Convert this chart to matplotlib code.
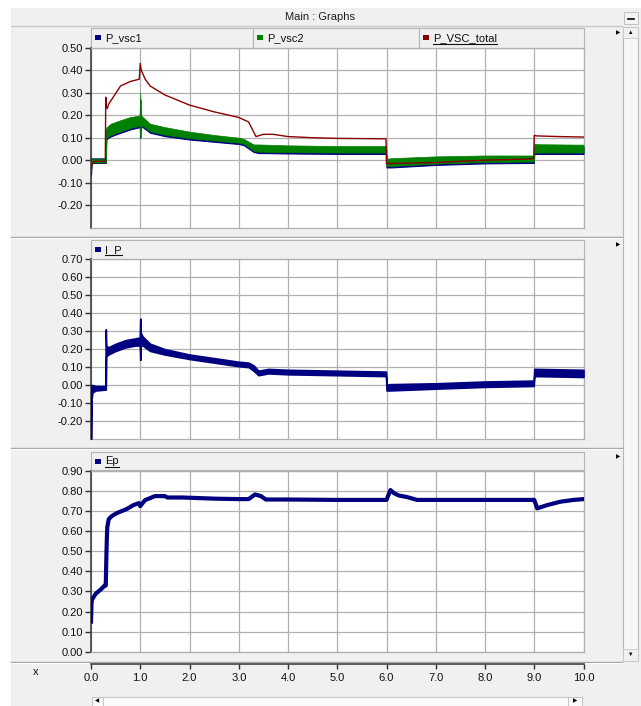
import matplotlib
matplotlib.use("Agg")
import matplotlib.pyplot as plt
from matplotlib.patches import Rectangle
from matplotlib.lines import Line2D

plt.rcParams['font.family'] = ['Liberation Sans', 'DejaVu Sans']

# ---------------- data ----------------
x_ticks = [0.0, 1.0, 2.0, 3.0, 4.0, 5.0, 6.0, 7.0, 8.0, 9.0, 10.0]
x_tick_labels = ["0.0", "1.0", "2.0", "3.0", "4.0", "5.0", "6.0", "7.0", "8.0", "9.0", "10.0"]

p_ticks = [0.50, 0.40, 0.30, 0.20, 0.10, 0.00, -0.10, -0.20]
ip_ticks = [0.70, 0.60, 0.50, 0.40, 0.30, 0.20, 0.10, 0.00, -0.10, -0.20]
ep_ticks = [0.90, 0.80, 0.70, 0.60, 0.50, 0.40, 0.30, 0.20, 0.10, 0.00]

# P_VSC_total (red line)
total_t = [0, 0.01, 0.03, 0.06, 0.29, 0.30, 0.31, 0.33, 0.36, 0.45, 0.6, 0.8, 0.98, 1.0, 1.02,
           1.1, 1.2, 1.5, 2.0, 2.5, 3.0, 3.1, 3.2, 3.35, 3.5, 3.7, 4.0, 4.5, 5.0, 5.99, 6.0,
           6.05, 7.0, 8.0, 8.9, 8.99, 9.0, 9.05, 9.5, 10.0]
total_v = [-0.07, -0.03, -0.01, -0.005, -0.005, 0.28, 0.24, 0.23, 0.25, 0.28, 0.33, 0.35, 0.36, 0.43, 0.40,
           0.36, 0.33, 0.29, 0.245, 0.215, 0.19, 0.18, 0.17, 0.105, 0.115, 0.115, 0.105, 0.10, 0.097, 0.095, -0.015,
           -0.015, -0.01, 0.0, 0.005, 0.01, 0.11, 0.108, 0.105, 0.103]

# P_vsc2 (green band: lower / upper envelope)
vsc_t = [0, 0.01, 0.03, 0.29, 0.30, 0.31, 0.4, 0.6, 0.8, 0.99, 1.0, 1.01, 1.05, 1.2, 1.5, 2.0, 2.5,
         3.0, 3.1, 3.3, 3.4, 4.0, 5.0, 5.99, 6.0, 6.1, 7.0, 8.0, 8.99, 9.0, 9.1, 10.0]
vsc2_lo = [-0.05, -0.02, -0.01, -0.01, -0.01, 0.10, 0.112, 0.128, 0.143, 0.153, 0.10, 0.153, 0.153, 0.128, 0.113, 0.098, 0.088,
           0.078, 0.073, 0.043, 0.038, 0.036, 0.034, 0.034, -0.026, -0.026, -0.015, -0.008, -0.006, 0.034, 0.034, 0.034]
vsc2_hi = [0.0, 0.005, 0.005, 0.005, 0.005, 0.145, 0.162, 0.178, 0.192, 0.198, 0.30, 0.20, 0.192, 0.162, 0.147, 0.127, 0.112,
           0.10, 0.095, 0.07, 0.07, 0.066, 0.063, 0.063, 0.006, 0.009, 0.017, 0.021, 0.021, 0.073, 0.071, 0.069]
# P_vsc1 (blue band, mostly hidden below the green one)
vsc1_lo = [-0.06, -0.02, -0.012, -0.012, -0.012, 0.094, 0.106, 0.122, 0.137, 0.147, 0.10, 0.147, 0.147, 0.122, 0.107, 0.092, 0.082,
           0.072, 0.067, 0.037, 0.032, 0.030, 0.028, 0.028, -0.032, -0.032, -0.021, -0.014, -0.012, 0.028, 0.028, 0.028]
vsc1_hi = [0.0, 0.008, 0.008, 0.008, 0.008, 0.135, 0.152, 0.168, 0.182, 0.188, 0.27, 0.19, 0.182, 0.152, 0.137, 0.117, 0.102,
           0.09, 0.085, 0.06, 0.06, 0.056, 0.053, 0.053, -0.004, -0.001, 0.007, 0.011, 0.011, 0.063, 0.061, 0.059]

# I_P (navy band)
ip_t = [0, 0.01, 0.03, 0.1, 0.29, 0.30, 0.31, 0.35, 0.5, 0.7, 0.9, 0.99, 1.0, 1.01, 1.05, 1.2, 1.5,
        2.0, 2.5, 3.0, 3.2, 3.3, 3.4, 3.6, 4.0, 5.0, 5.99, 6.0, 6.05, 7.0, 8.0, 8.99, 9.0, 9.05, 10.0]
ip_lo = [-0.30, -0.08, -0.04, -0.03, -0.025, -0.025, 0.16, 0.17, 0.19, 0.21, 0.22, 0.22, 0.14, 0.22, 0.22, 0.19, 0.17,
         0.145, 0.125, 0.105, 0.10, 0.08, 0.055, 0.065, 0.06, 0.055, 0.05, -0.03, -0.03, -0.02, -0.01, -0.005, 0.05, 0.05, 0.045]
ip_hi = [0.0, 0.0, 0.0, -0.005, -0.005, 0.31, 0.22, 0.21, 0.23, 0.25, 0.26, 0.265, 0.37, 0.29, 0.27, 0.23, 0.20,
         0.17, 0.15, 0.13, 0.125, 0.11, 0.08, 0.09, 0.085, 0.08, 0.075, 0.0, 0.005, 0.01, 0.02, 0.025, 0.09, 0.09, 0.085]

# Ep (navy line)
ep_t = [0, 0.01, 0.02, 0.1, 0.2, 0.28, 0.30, 0.31, 0.32, 0.33, 0.36, 0.42, 0.52, 0.72, 0.86, 0.97, 1.0, 1.03,
        1.1, 1.2, 1.3, 1.5, 1.55, 1.85, 2.55, 3.0, 3.2, 3.33, 3.45, 3.55, 4.0, 5.0, 6.0, 6.08, 6.15, 6.25,
        6.42, 6.62, 7.0, 8.0, 9.0, 9.06, 9.26, 9.53, 9.8, 10.0]
ep_v = [0.15, 0.24, 0.26, 0.29, 0.31, 0.33, 0.33, 0.45, 0.55, 0.62, 0.66, 0.675, 0.69, 0.71, 0.73, 0.74, 0.725, 0.735,
        0.755, 0.765, 0.775, 0.775, 0.768, 0.768, 0.762, 0.76, 0.76, 0.783, 0.775, 0.758, 0.758, 0.756, 0.756, 0.805, 0.79, 0.778,
        0.77, 0.756, 0.756, 0.756, 0.756, 0.714, 0.73, 0.747, 0.756, 0.76]

NAVY = '#000080'
GREEN = '#008000'
RED = '#8b0000'

# ---------------- figure & chrome ----------------
W, H = 641, 706
fig = plt.figure(figsize=(W / 100, H / 100), dpi=100, facecolor='white')

bg = fig.add_axes([0, 0, 1, 1], zorder=0)
bg.set_xlim(0, W)
bg.set_ylim(H, 0)
bg.axis('off')

PANEL = '#f0f0f0'
bg.add_patch(Rectangle((11, 8), 630, 698, facecolor=PANEL, edgecolor='none'))
# title bar
bg.add_line(Line2D([11, 622], [26, 26], color='#c8c8c8', lw=1))
bg.text(320, 17, 'Main : Graphs', ha='center', va='center', fontsize=8, color='#202020')
# minimise button
bg.add_patch(Rectangle((624, 12), 14, 12, facecolor='#f4f4f4', edgecolor='#c0c0c0', lw=0.7))
bg.add_line(Line2D([628, 634], [19, 19], color='black', lw=1.2))

# vertical scrollbar
bg.add_patch(Rectangle((623, 27), 15, 634, facecolor='#f7f7f7', edgecolor='#b8b8b8', lw=0.8))
bg.add_patch(Rectangle((623, 27), 15, 11, facecolor='#f0f0f0', edgecolor='#c8c8c8', lw=0.6))
bg.add_patch(Rectangle((623, 649), 15, 12, facecolor='#f0f0f0', edgecolor='#c8c8c8', lw=0.6))
bg.text(631, 32.5, '\u25b2', ha='center', va='center', fontsize=4, color='black')
bg.text(631, 654.5, '\u25bc', ha='center', va='center', fontsize=4, color='black')

# panel separators
for yy in (237, 448, 661.5):
    bg.add_line(Line2D([11, 622], [yy, yy], color='#a8a8a8', lw=1))
    bg.add_line(Line2D([11, 622], [yy + 1, yy + 1], color='white', lw=0.7))

# small arrows at the right of each panel
for yy in (33, 245, 457):
    bg.text(618, yy, '\u25b6', ha='center', va='center', fontsize=4, color='black')

# horizontal scrollbar
bg.add_patch(Rectangle((92, 697), 490, 12, facecolor='#fafafa', edgecolor='#c8c8c8', lw=0.8))
bg.add_line(Line2D([103, 103], [697, 706], color='#c8c8c8', lw=0.8))
bg.add_line(Line2D([568, 568], [697, 706], color='#c8c8c8', lw=0.8))
bg.text(97, 701, '\u25c0', ha='center', va='center', fontsize=4, color='black')
bg.text(575, 701, '\u25b6', ha='center', va='center', fontsize=4, color='black')


def header(y0, y1, sections):
    """sections: list of (x0, x1, label, colour, underlined)"""
    for x0, x1, label, col, und in sections:
        bg.add_patch(Rectangle((x0, y0), x1 - x0, y1 - y0, facecolor='#f0f0f0',
                               edgecolor='#b4b4b4', lw=0.8))
        bg.add_patch(Rectangle((x0 + 3.5, (y0 + y1) / 2 - 2.5), 6.5, 5, facecolor=col, edgecolor='none'))
        t = bg.text(x0 + 14, (y0 + y1) / 2 + 0.5, label, ha='left', va='center', fontsize=8, color='#101010')
        if und:
            fig.canvas.draw()
            bb = t.get_window_extent()
            bg.add_line(Line2D([bb.x0, bb.x1], [H - bb.y0 + 0.5, H - bb.y0 + 0.5], color='#101010', lw=0.8))


def ax_px(x0, y0, x1, y1):
    return fig.add_axes([x0 / W, 1 - y1 / H, (x1 - x0) / W, (y1 - y0) / H], zorder=2)


def style(ax, ylim, yticks):
    ax.set_facecolor('white')
    ax.set_xlim(0, 10)
    ax.set_ylim(*ylim)
    ax.set_xticks(x_ticks)
    ax.set_yticks(yticks)
    ax.set_yticklabels(['%.2f' % v for v in yticks])
    ax.tick_params(axis='y', direction='out', length=4, width=1, pad=2,
                   labelsize=8, colors='#303030', labelcolor='#101010')
    ax.tick_params(axis='x', length=0, labelbottom=False)
    ax.grid(True, color='#b0b0b0', lw=0.9)
    ax.set_axisbelow(True)
    for s in ('top', 'right', 'bottom'):
        ax.spines[s].set_color('#b0b0b0')
        ax.spines[s].set_linewidth(0.9)
    ax.spines['left'].set_color('#404040')
    ax.spines['left'].set_linewidth(1.2)


# ---------------- panel 1 ----------------
ax1 = ax_px(91, 47.7, 583.5, 227.7)
style(ax1, (-0.3, 0.5), p_ticks)
ax1.fill_between(vsc_t, vsc1_lo, vsc1_hi, color=NAVY, lw=0.8, ec=NAVY, zorder=3)
ax1.fill_between(vsc_t, vsc2_lo, vsc2_hi, color=GREEN, lw=0.5, ec=GREEN, zorder=4)
ax1.plot(total_t, total_v, color=RED, lw=1.0, zorder=5)

# ---------------- panel 2 ----------------
ax2 = ax_px(91, 259.3, 583.5, 439)
style(ax2, (-0.3, 0.7), ip_ticks)
ax2.fill_between(ip_t, ip_lo, ip_hi, color=NAVY, lw=1.2, ec=NAVY, zorder=3)

# ---------------- panel 3 ----------------
ax3 = ax_px(91, 471, 583.5, 651.7)
style(ax3, (0.0, 0.9), ep_ticks)
ax3.plot(ep_t, ep_v, color=NAVY, lw=3.0, zorder=3, solid_joinstyle='round')

# ---------------- headers ----------------
header(28, 47.5, [(91, 253, 'P_vsc1', NAVY, False),
                  (253, 419, 'P_vsc2', GREEN, False),
                  (419, 583.5, 'P_VSC_total', RED, True)])
header(240, 258.5, [(91, 583.5, 'I_P', NAVY, True)])
header(452, 470, [(91, 583.5, 'Ep', NAVY, True)])

# ---------------- x axis ----------------
axx = ax_px(91, 663.5, 583.5, 664.5)
axx.set_xlim(0, 10)
axx.set_ylim(0, 1)
axx.set_facecolor('none')
for s in ('top', 'right', 'left'):
    axx.spines[s].set_visible(False)
axx.spines['bottom'].set_position(('axes', 1.0))
axx.spines['bottom'].set_color('#404040')
axx.spines['bottom'].set_linewidth(1.2)
axx.set_yticks([])
axx.set_xticks(x_ticks)
axx.set_xticklabels(x_tick_labels)
axx.tick_params(axis='x', direction='out', length=3.5, width=1, pad=3,
                labelsize=8, colors='#303030', labelcolor='#101010')
bg.text(36, 672, 'x', ha='center', va='center', fontsize=8, color='#101010')

fig.savefig('out.png', dpi=100, facecolor='white')
